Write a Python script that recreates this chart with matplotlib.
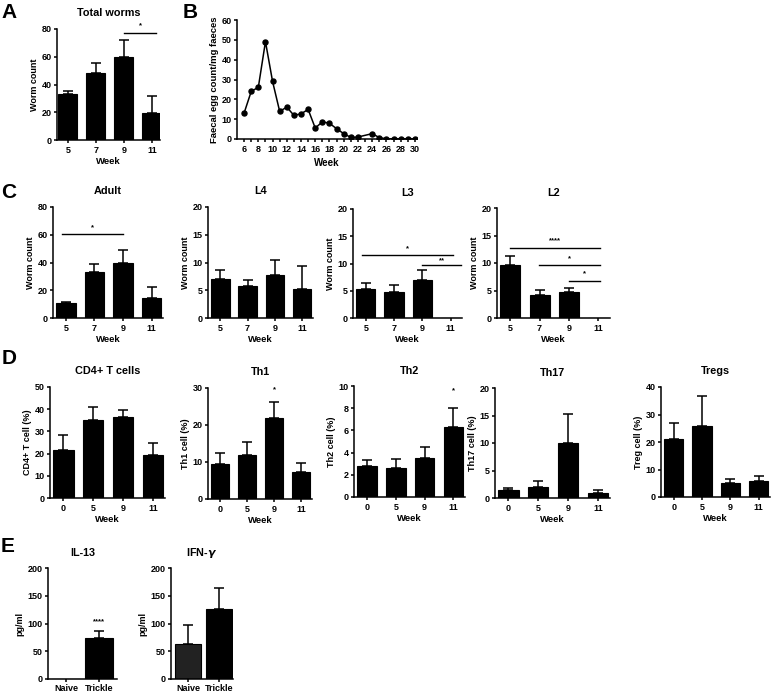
import matplotlib
matplotlib.use('Agg')
import matplotlib.pyplot as plt

plt.rcParams['font.family'] = ['Liberation Sans', 'DejaVu Sans']
plt.rcParams['font.weight'] = 'bold'

# --- data ---
weeks_worms = ['5', '7', '9', '11']
weeks_cells = ['0', '5', '9', '11']
groups = ['Naive', 'Trickle']

total_mean = [33, 48, 59.5, 19.5]
total_top = [35, 55.5, 72, 31.5]

egg_week = [6, 7, 8, 9, 10, 11, 12, 13, 14, 15, 16, 17, 18, 19, 20, 21, 22,
            24, 25, 26, 27, 28, 29, 30]
egg_count = [13.1, 24, 26.1, 49.1, 29, 13.9, 16.1, 11.9, 12.7, 14.9, 5.5, 8.7,
             7.9, 5.2, 2.7, 0.8, 1.0, 2.7, 0.7, 0.1, 0.1, 0.1, 0.1, 0.1]

adult_mean = [10.9, 33.1, 39.9, 14.3]
adult_top = [11.6, 38.6, 48.8, 22.5]
l4_mean = [7.0, 5.8, 7.8, 5.3]
l4_top = [8.7, 6.9, 10.4, 9.4]
l3_mean = [5.4, 4.7, 7.0, 0]
l3_top = [6.4, 6.0, 8.8, 0]
l2_mean = [9.7, 4.2, 4.7, 0]
l2_top = [11.3, 5.1, 5.4, 0]

cd4_mean = [21.8, 35, 36.5, 19.5]
cd4_top = [28.2, 41, 39.5, 25]
th1_mean = [9.4, 12, 21.9, 7.3]
th1_top = [12.4, 15.3, 26.2, 9.6]
th2_mean = [2.75, 2.57, 3.5, 6.35]
th2_top = [3.35, 3.44, 4.52, 8.0]
th17_mean = [1.5, 2.0, 10, 1.0]
th17_top = [1.9, 3.1, 15.3, 1.4]
treg_mean = [21.2, 25.8, 5.0, 5.9]
treg_top = [27, 36.7, 6.6, 7.5]

il13_mean = [0, 74]
il13_top = [0, 86]
ifn_mean = [63.6, 126.7]
ifn_top = [98, 164.8]

W, H = 771, 695
fig = plt.figure(figsize=(W / 100, H / 100), dpi=100)


def make_ax(l, t, r, b):
    return fig.add_axes([l / W, 1 - b / H, (r - l) / W, (b - t) / H])


def style(ax):
    for s in ['top', 'right']:
        ax.spines[s].set_visible(False)
    for s in ['left', 'bottom']:
        ax.spines[s].set_linewidth(1.1)
    ax.tick_params(direction='out', length=2.5, width=1.1, labelsize=6.5, pad=1.5)
    for lab in ax.get_xticklabels() + ax.get_yticklabels():
        lab.set_fontweight('bold')


def bar_panel(rect, title, cats, mean, top, ymax, ystep, ylabel,
              xlabel='Week', colors='black', xlim=(-0.45, 3.4), width=0.68):
    ax = make_ax(*rect)
    x = list(range(len(cats)))
    err = [t - m for t, m in zip(top, mean)]
    ax.bar(x, mean, width=width, color=colors, edgecolor='black', linewidth=0.8)
    for xi, m, e in zip(x, mean, err):
        if e > 0:
            ax.errorbar(xi, m, yerr=[[0], [e]], color='black', lw=1.1,
                        capsize=3.8, capthick=1.1)
    ax.set_xlim(*xlim)
    ax.set_ylim(0, ymax)
    ax.set_yticks(range(0, ymax + 1, ystep))
    ax.set_xticks(x)
    ax.set_xticklabels(cats)
    ax.set_title(title, fontsize=7.8, fontweight='bold', pad=9)
    ax.set_ylabel(ylabel, fontsize=6.5, fontweight='bold', labelpad=2)
    if xlabel:
        ax.set_xlabel(xlabel, fontsize=6.8, fontweight='bold', labelpad=2)
    style(ax)
    return ax


def sig(ax, x0, x1, y, text, dy):
    ax.plot([x0, x1], [y, y], color='black', lw=1.0, clip_on=False)
    ax.text((x0 + x1) / 2, y + dy, text, ha='center', va='center',
            fontsize=5.5, fontweight='bold')


# A
ax = bar_panel((57, 29, 160, 140), 'Total worms', weeks_worms, total_mean,
               total_top, 80, 20, 'Worm count', xlim=(-0.39, 3.29))
sig(ax, 2.02, 3.15, 77, '*', 5)

# B
ax = make_ax(237, 20, 417, 139)
ax.plot(egg_week, egg_count, color='black', lw=1.1, marker='o', markersize=3.6)
ax.set_xlim(5, 30.3)
ax.set_ylim(0, 60)
ax.set_yticks(range(0, 61, 10))
ax.set_xticks(range(6, 31, 2))
ax.set_xticks(range(7, 30, 2), minor=True)
ax.tick_params(which='minor', length=2.5, width=1.1)
ax.set_ylabel('Faecal egg count/mg faeces', fontsize=6.8, fontweight='bold', labelpad=2)
ax.set_xlabel('Week', fontsize=7, fontweight='bold', labelpad=3)
style(ax)

# C
ax = bar_panel((53, 207, 163, 318), 'Adult', weeks_worms, adult_mean, adult_top,
               80, 20, 'Worm count')
sig(ax, -0.15, 2.0, 60.6, '*', 4.5)
ax = bar_panel((208, 207, 313, 318), 'L4', weeks_worms, l4_mean, l4_top,
               20, 5, 'Worm count')
ax = bar_panel((353, 209, 462, 318), 'L3', weeks_worms, l3_mean, l3_top,
               20, 5, 'Worm count')
sig(ax, -0.12, 3.08, 11.5, '*', 1.2)
sig(ax, 2.0, 3.36, 9.7, '**', 0.8)
ax = bar_panel((497, 208, 610, 318), 'L2', weeks_worms, l2_mean, l2_top,
               20, 5, 'Worm count')
sig(ax, 0.0, 3.05, 12.8, '****', 1.2)
sig(ax, 0.97, 3.05, 9.6, '*', 1.2)
sig(ax, 2.0, 3.05, 6.8, '*', 1.2)

# D
bar_panel((50, 387, 165, 498), 'CD4+ T cells', weeks_cells, cd4_mean, cd4_top,
          50, 10, 'CD4+ T cell (%)')
ax = bar_panel((208, 388, 312, 499), 'Th1', weeks_cells, th1_mean, th1_top,
               30, 10, 'Th1 cell (%)')
ax.text(2, 29.4, '*', ha='center', va='center', fontsize=5.5, fontweight='bold')
ax = bar_panel((354, 386, 465, 497), 'Th2', weeks_cells, th2_mean, th2_top,
               10, 2, 'Th2 cell (%)')
ax.text(3, 9.6, '*', ha='center', va='center', fontsize=5.5, fontweight='bold')
bar_panel((495, 388, 610, 498), 'Th17', weeks_cells, th17_mean, th17_top,
          20, 5, 'Th17 cell (%)')
bar_panel((661, 387, 770, 497), 'Tregs', weeks_cells, treg_mean, treg_top,
          40, 10, 'Treg cell (%)')

# E
ax = bar_panel((48, 568, 117, 679), 'IL-13', groups, il13_mean, il13_top,
               200, 50, 'pg/ml', xlabel=None, xlim=(-0.55, 1.55), width=0.86)
ax.tick_params(axis='x', pad=1)
ax.text(1, 104, '****', ha='center', va='center', fontsize=5.5, fontweight='bold')
ax = bar_panel((171, 568, 233, 679), 'IFN-$\\gamma$', groups, ifn_mean, ifn_top,
               200, 50, 'pg/ml', xlabel=None, colors=['#222222', 'black'],
               xlim=(-0.55, 1.45), width=0.86)
ax.tick_params(axis='x', pad=1)

# panel letters
for letter, px, py in [('A', 9, 13), ('B', 190, 13), ('C', 9, 193),
                       ('D', 9, 358), ('E', 8, 546)]:
    fig.text(px / W, 1 - py / H, letter, fontsize=15, fontweight='bold',
             ha='center', va='center')

fig.savefig('out.png', dpi=100)
